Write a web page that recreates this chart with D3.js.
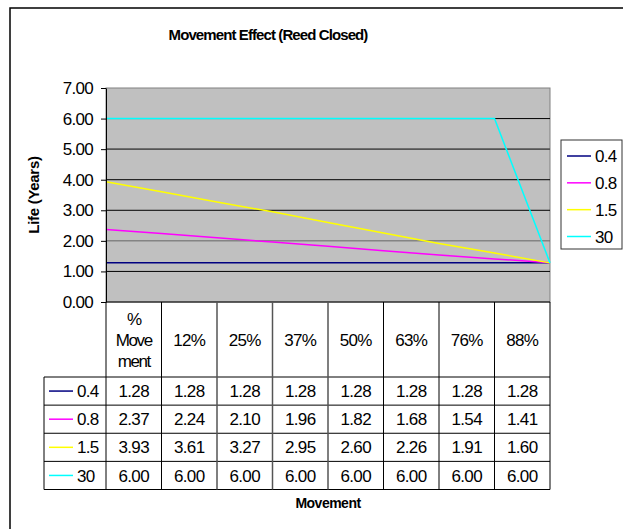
<!DOCTYPE html>
<html>
<head>
<meta charset="utf-8">
<script src="https://cdn.jsdelivr.net/npm/d3@7"></script>
<style>
  body { margin: 0; background: #fff; }
  svg { display: block; font-family: "Liberation Sans", Arial, sans-serif; }
</style>
</head>
<body>
<svg id="chart" width="623" height="529"></svg>
<script>
// categories shown in the data table (first one wraps to three lines)
const categories = ["% Movement", "12%", "25%", "37%", "50%", "63%", "76%", "88%"];
const categoryLines = [["%", "Move", "ment"], ["12%"], ["25%"], ["37%"], ["50%"], ["63%"], ["76%"], ["88%"]];

const seriesNames = ["0.4", "0.8", "1.5", "30"];
const values04 = [1.28, 1.28, 1.28, 1.28, 1.28, 1.28, 1.28, 1.28];
const values08 = [2.37, 2.24, 2.10, 1.96, 1.82, 1.68, 1.54, 1.41];
const values15 = [3.93, 3.61, 3.27, 2.95, 2.60, 2.26, 1.91, 1.60];
const values30 = [6.00, 6.00, 6.00, 6.00, 6.00, 6.00, 6.00, 6.00];
// every line ends on this value at the right edge of the plot
const endValue = 1.28;

const yTicks = [0, 1, 2, 3, 4, 5, 6, 7];
const colors = ["#000080", "#FF00FF", "#FFFF00", "#00FFFF"];

const series = [values04, values08, values15, values30].map((v, i) => ({
  name: seriesNames[i],
  color: colors[i],
  values: v,
  line: v.concat([endValue])
}));

const svg = d3.select("#chart");
const plot = { left: 106, right: 550, top: 88, bottom: 302 };
const fs = 17, ls = -0.7;   // regular text size / spacing

// outer chart frame (runs past the window on the right and bottom)
svg.append("rect")
  .attr("x", 10).attr("y", 8)
  .attr("width", 640).attr("height", 540)
  .attr("fill", "#fff")
  .attr("stroke", "#000")
  .attr("stroke-width", 1.5);

// title
svg.append("text")
  .attr("x", 268).attr("y", 40)
  .attr("text-anchor", "middle")
  .attr("font-size", 15).attr("font-weight", "bold")
  .attr("letter-spacing", -0.9)
  .text("Movement Effect (Reed Closed)");

const x = d3.scaleLinear()
  .domain([0, categories.length])
  .range([plot.left, plot.right]);

const y = d3.scaleLinear()
  .domain([0, 7])
  .range([plot.bottom, plot.top]);

// plot background
svg.append("rect")
  .attr("x", plot.left).attr("y", plot.top)
  .attr("width", plot.right - plot.left)
  .attr("height", plot.bottom - plot.top)
  .attr("fill", "#C0C0C0")
  .attr("stroke", "#808080")
  .attr("stroke-width", 1);

// gridlines
svg.append("g")
  .selectAll("line")
  .data(yTicks.filter(t => t > 0 && t < 7))
  .enter()
  .append("line")
  .attr("x1", plot.left).attr("x2", plot.right)
  .attr("y1", d => y(d)).attr("y2", d => y(d))
  .attr("stroke", d => d === 5 ? "#555" : d === 2 ? "#666" : "#000")
  .attr("stroke-width", d => d === 5 ? 1.8 : 1);

// lines
const line = d3.line()
  .x((d, i) => x(i))
  .y(d => y(d));

svg.append("g")
  .selectAll("path")
  .data(series)
  .enter()
  .append("path")
  .attr("fill", "none")
  .attr("stroke", d => d.color)
  .attr("stroke-width", 1.5)
  .attr("d", d => line(d.line));

// y axis
const yAxis = svg.append("g")
  .attr("transform", `translate(${plot.left},0)`)
  .call(d3.axisLeft(y).tickValues(yTicks).tickFormat(d3.format(".2f")).tickSize(5).tickPadding(8).tickSizeOuter(0));
yAxis.select(".domain").attr("stroke", "#000");
yAxis.selectAll(".tick line").attr("stroke", "#000");
yAxis.selectAll(".tick text")
  .attr("font-size", fs)
  .attr("letter-spacing", ls)
  .attr("fill", "#000")
  .attr("font-family", "Liberation Sans, Arial, sans-serif");

svg.append("line")
  .attr("x1", plot.left).attr("x2", plot.right)
  .attr("y1", plot.bottom).attr("y2", plot.bottom)
  .attr("stroke", "#000");

// y axis title
svg.append("text")
  .attr("transform", `translate(39,${(plot.top + plot.bottom) / 2}) rotate(-90)`)
  .attr("text-anchor", "middle")
  .attr("font-size", 15).attr("font-weight", "bold")
  .attr("letter-spacing", -0.3)
  .text("Life (Years)");

// data table
const headerBottom = 377;
const tableLeft = 44;
const rows = d3.scaleBand()
  .domain(seriesNames)
  .range([headerBottom, 489.5]);

const table = svg.append("g");

// header labels
categoryLines.forEach((lines, i) => {
  const cx = (x(i) + x(i + 1)) / 2;
  const cy = (plot.bottom + headerBottom) / 2;
  const lh = 21;
  lines.forEach((t, j) => {
    table.append("text")
      .attr("x", cx)
      .attr("y", cy + (j - (lines.length - 1) / 2) * lh)
      .attr("dy", "0.36em")
      .attr("text-anchor", "middle")
      .attr("font-size", fs)
      .attr("letter-spacing", lines.length > 1 ? -1.4 : ls)
      .text(t);
  });
});

// values
series.forEach(s => {
  const cy = rows(s.name) + rows.bandwidth() / 2;
  s.values.forEach((v, i) => {
    table.append("text")
      .attr("x", (x(i) + x(i + 1)) / 2)
      .attr("y", cy)
      .attr("dy", "0.36em")
      .attr("text-anchor", "middle")
      .attr("font-size", fs)
      .attr("letter-spacing", ls)
      .text(d3.format(".2f")(v));
  });
  // legend key inside the table
  table.append("line")
    .attr("x1", 49).attr("x2", 73)
    .attr("y1", cy).attr("y2", cy)
    .attr("stroke", s.color).attr("stroke-width", 1.5);
  table.append("text")
    .attr("x", 77).attr("y", cy)
    .attr("dy", "0.36em")
    .attr("font-size", fs)
    .attr("letter-spacing", ls)
    .text(s.name);
});

// table grid
const rowEdges = [headerBottom].concat(seriesNames.map(n => rows(n) + rows.bandwidth()));
table.selectAll(".hline")
  .data(rowEdges)
  .enter()
  .append("line")
  .attr("x1", tableLeft).attr("x2", plot.right)
  .attr("y1", d => d).attr("y2", d => d)
  .attr("stroke", "#000");

table.selectAll(".vline")
  .data(d3.range(categories.length + 1))
  .enter()
  .append("line")
  .attr("x1", d => x(d)).attr("x2", d => x(d))
  .attr("y1", plot.bottom).attr("y2", rowEdges[rowEdges.length - 1])
  .attr("stroke", d => (d >= 2 && d <= 4) ? "#555" : "#000")
  .attr("stroke-width", d => (d >= 2 && d <= 4) ? 1.5 : 1);

table.append("line")
  .attr("x1", tableLeft).attr("x2", tableLeft)
  .attr("y1", headerBottom).attr("y2", rowEdges[rowEdges.length - 1])
  .attr("stroke", "#000");

// x axis title
svg.append("text")
  .attr("x", (plot.left + plot.right) / 2).attr("y", 508)
  .attr("text-anchor", "middle")
  .attr("font-size", 14).attr("font-weight", "bold")
  .attr("letter-spacing", -0.5)
  .text("Movement");

// legend
const legend = svg.append("g");
legend.append("rect")
  .attr("x", 561).attr("y", 140)
  .attr("width", 61).attr("height", 109)
  .attr("fill", "#fff")
  .attr("stroke", "#333").attr("stroke-width", 1);

const legendRow = d3.scalePoint()
  .domain(seriesNames)
  .range([156, 236.5]);

series.forEach(s => {
  const ly = legendRow(s.name);
  legend.append("line")
    .attr("x1", 567).attr("x2", 591)
    .attr("y1", ly).attr("y2", ly)
    .attr("stroke", s.color).attr("stroke-width", 1.5);
  legend.append("text")
    .attr("x", 595).attr("y", ly)
    .attr("dy", "0.36em")
    .attr("font-size", fs)
    .attr("letter-spacing", ls)
    .text(s.name);
});
</script>
</body>
</html>
